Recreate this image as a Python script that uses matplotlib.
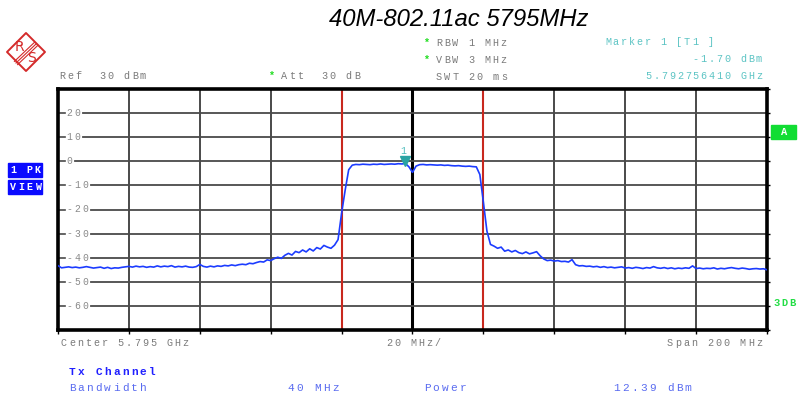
import numpy as np
import matplotlib
matplotlib.use("Agg")
import matplotlib.pyplot as plt
from matplotlib.patches import Polygon, Rectangle
from matplotlib.lines import Line2D
from matplotlib.transforms import ScaledTranslation

# ---------------- data ----------------
center_ghz = 5.795
span_mhz = 200.0
offset_mhz = np.arange(-100, 101)  # sample positions, 1 MHz step
trace_dbm = [
    -43.3, -44.2, -44.0, -43.8, -44.1, -43.9, -44.2, -44.0, -43.7, -44.0,   # -100..-91
    -44.3, -44.1, -43.9, -44.4, -44.0, -44.5, -44.2, -44.3, -44.0, -43.8,   # -90..-81
    -43.6, -43.9, -43.5, -43.8, -43.6, -44.0, -43.7, -43.9, -43.4, -43.8,   # -80..-71
    -43.5, -43.7, -43.3, -43.9, -43.6, -43.8, -43.5, -43.9, -44.0, -43.7,   # -70..-61
    -42.8, -43.6, -43.9, -43.5, -43.8, -43.4, -43.6, -43.2, -43.4, -43.0,   # -60..-51
    -43.3, -42.9, -42.7, -42.9, -42.3, -42.5, -42.0, -41.6, -41.8, -40.9,   # -50..-41
    -41.2, -40.4, -39.8, -40.3, -39.0, -38.2, -38.9, -37.4, -37.9, -36.8,   # -40..-31
    -37.6, -36.3, -37.2, -35.8, -36.4, -34.9, -35.6, -36.1, -34.8, -32.5,   # -30..-21
    -21.5, -12.0, -3.5, -1.6, -1.3, -1.4, -1.2, -1.3, -1.4, -1.2,           # -20..-11
    -1.3, -1.1, -1.3, -1.2, -1.1, -1.2, -1.0, -1.1, -0.9, -2.3,             # -10..-1
    -4.6,                                                                   # 0
    -2.0, -1.4, -1.3, -1.5, -1.4, -1.5, -1.6, -1.5, -1.7, -1.6,             # 1..10
    -1.8, -1.9, -1.8, -2.0, -2.1, -2.0, -2.2, -2.3, -5.5, -17.0,            # 11..20
    -29.0, -34.5, -35.2, -36.1, -35.6, -37.3, -36.8, -37.6, -37.0, -37.9,   # 21..30
    -38.3, -37.6, -38.4, -38.0, -37.5, -39.2, -40.5, -41.2, -41.0, -41.4,   # 31..40
    -41.2, -41.6, -41.5, -41.8, -40.8, -42.9, -43.4, -43.3, -43.6, -43.5,   # 41..50
    -43.8, -43.6, -44.0, -43.7, -44.1, -43.9, -44.2, -44.0, -43.8, -44.3,   # 51..60
    -44.1, -44.4, -44.0, -44.2, -44.5, -44.1, -44.3, -43.7, -44.2, -44.4,   # 61..70
    -44.1, -44.5, -44.2, -44.6, -44.3, -44.5, -44.2, -44.4, -43.4, -44.5,   # 71..80
    -44.3, -44.6, -44.4, -44.5, -44.2, -44.7, -44.4, -44.6, -44.3, -44.1,   # 81..90
    -44.4, -44.6, -44.3, -44.5, -44.8, -44.6, -44.5, -44.7, -44.6, -45.0,   # 91..100
]
channel_edges_mhz = [-20, 20]
marker_offset_mhz = (5.792756410 - 5.795) * 1000.0
y_ticks = [20, 10, 0, -10, -20, -30, -40, -50, -60]
y_min, y_max = -70, 30

# ---------------- figure ----------------
W, H = 803, 407
fig = plt.figure(figsize=(W / 100, H / 100), dpi=100)
fig.patch.set_facecolor("white")

def fx(x):
    return x / W

def fy(y):
    return 1 - y / H

MONO = "Liberation Mono"

def stext(x, y, s, step, color="#7a7a7a", size=7.3, weight="normal", family=MONO):
    """Letter-spaced text; x = centre of first char, y = centre (pixels from top)."""
    for i, c in enumerate(s):
        if c != " ":
            fig.text(fx(x + i * step), fy(y), c, ha="center", va="center",
                     color=color, fontsize=size, fontweight=weight, family=family)

ax = fig.add_axes([fx(58), fy(330), fx(767) - fx(58), (330 - 89) / H])
ax.set_xlim(-span_mhz / 2, span_mhz / 2)
ax.set_ylim(y_min, y_max)

# vertical grid
xdivs = np.arange(-100, 101, 20)
for xv in xdivs[1:-1]:
    if xv == 0:
        ax.axvline(xv, color="black", lw=2.2, zorder=1)
    else:
        ax.axvline(xv, color="#3c3c3c", lw=1.3, zorder=1)

# horizontal grid with inside labels
lbl_tr = ax.get_yaxis_transform()
for v in y_ticks:
    s = str(v)
    n = len(s)
    line_start_px = 11 + (n - 1) * 8 + 6
    ax.axhline(v, xmin=line_start_px / 709, xmax=1, color="#4a4a4a", lw=1.3, zorder=1)
    ax.axhline(v, xmin=0, xmax=7 / 709, color="#4a4a4a", lw=1.2, zorder=1)
    for i, c in enumerate(s):
        off = ScaledTranslation((11 + i * 8) / 100, 0, fig.dpi_scale_trans)
        ax.text(0, v, c, transform=lbl_tr + off, ha="center", va="center",
                color="#8a8a8a", fontsize=7.0, family=MONO)

for e in channel_edges_mhz:
    ax.axvline(e, color="#c8281e", lw=1.5, zorder=2)

ax.plot(offset_mhz, trace_dbm, color="#1c3cff", lw=1.2, zorder=3)

# marker
mval = float(np.interp(marker_offset_mhz, offset_mhz, trace_dbm))
ax.plot([marker_offset_mhz], [mval + 1.2], marker="v", ms=6.5, color="#2aa3a3",
        mec="#2aa3a3", zorder=4)
ax.text(marker_offset_mhz - 0.5, mval + 5.2, "1", color="#4cbcbc", fontsize=7,
        ha="center", va="center", family=MONO, zorder=4)

ax.set_xticks(xdivs)
ax.set_yticks(np.arange(y_min, y_max + 1, 10))
ax.tick_params(axis="x", direction="out", length=3, width=1, labelbottom=False)
ax.tick_params(axis="y", direction="out", length=2, width=1, left=False,
               right=True, labelleft=False)
for sp in ax.spines.values():
    sp.set_linewidth(2.6)
    sp.set_color("black")

# ---------------- header ----------------
fig.text(fx(459), fy(20), "40M-802.11ac 5795MHz", ha="center", va="center",
         fontsize=17.2, style="italic", family="Liberation Sans", color="black")

stext(62, 76, "Ref  30 dBm", 8.1)
stext(272, 76, "*", 8, color="#22dd22", weight="bold")
stext(284, 76, "Att  30 dB", 8.1)
stext(427, 43, "*", 8, color="#22dd22", weight="bold")
stext(439, 43, "RBW 1 MHz", 8.1)
stext(427, 60, "*", 8, color="#22dd22", weight="bold")
stext(439, 60, "VBW 3 MHz", 8.1)
stext(439, 77, "SWT 20 ms", 8.1)

teal = "#5cc4c4"
stext(608, 42, "Marker 1 [T1 ]", 7.9, color=teal)
txt = "-1.70 dBm"
stext(759 - (len(txt) - 1) * 7.9, 59, txt, 7.9, color=teal)
txt = "5.792756410 GHz"
stext(759 - (len(txt) - 1) * 7.9, 76, txt, 7.9, color=teal)

# R&S logo
red = "#d42a2a"
cx, cy, r = 26, 52, 19
diamond = Polygon([(fx(cx), fy(cy - r)), (fx(cx + r), fy(cy)), (fx(cx), fy(cy + r)),
                   (fx(cx - r), fy(cy))], closed=True, fill=False, ec=red, lw=1.4,
                  joinstyle="round", transform=fig.transFigure)
fig.add_artist(diamond)
for d in (-1.6, 0, 1.6):
    fig.add_artist(Line2D([fx(36 + d), fx(16 + d)], [fy(44 + d), fy(63 + d)],
                          color=red, lw=0.8, transform=fig.transFigure))
fig.text(fx(19.5), fy(47), "R", color=red, fontsize=10, ha="center", va="center",
         family="DejaVu Sans")
fig.text(fx(32), fy(58), "S", color=red, fontsize=10, ha="center", va="center",
         family="DejaVu Sans")

# left status boxes
blue_box = "#0a0aff"
for (y0, label) in [(163, "1 PK"), (180, "VIEW")]:
    fig.add_artist(Rectangle((fx(8), fy(y0 + 14)), fx(34), 14 / H, color=blue_box,
                             transform=fig.transFigure))
    stext(13, y0 + 7, label, 8.2, color="white", weight="bold", size=7.2)

# right status
fig.add_artist(Rectangle((fx(771), fy(139)), fx(25), 14 / H, color="#11dd33",
                         transform=fig.transFigure))
stext(784, 132, "A", 8, color="white", weight="bold", size=7.5)
stext(777, 303, "3DB", 7.8, color="#22dd44", weight="bold", size=7.5)

# ---------------- footer ----------------
stext(64, 343, "Center 5.795 GHz", 8.1)
stext(389, 343, "20 MHz/", 8.1)
txt = "Span 200 MHz"
stext(759 - (len(txt) - 1) * 8.1, 343, txt, 8.1)

stext(72, 372, "Tx Channel", 8.9, color="#2020ff", weight="bold", size=8)
lb = "#5a6cf0"
stext(72, 388, "Bandwidth", 8.9, color=lb, size=8)
stext(291, 388, "40 MHz", 8.9, color=lb, size=8)
stext(427, 388, "Power", 8.9, color=lb, size=8)
stext(617, 388, "12.39 dBm", 8.9, color=lb, size=8)

fig.savefig("out.png", dpi=100, facecolor="white")
